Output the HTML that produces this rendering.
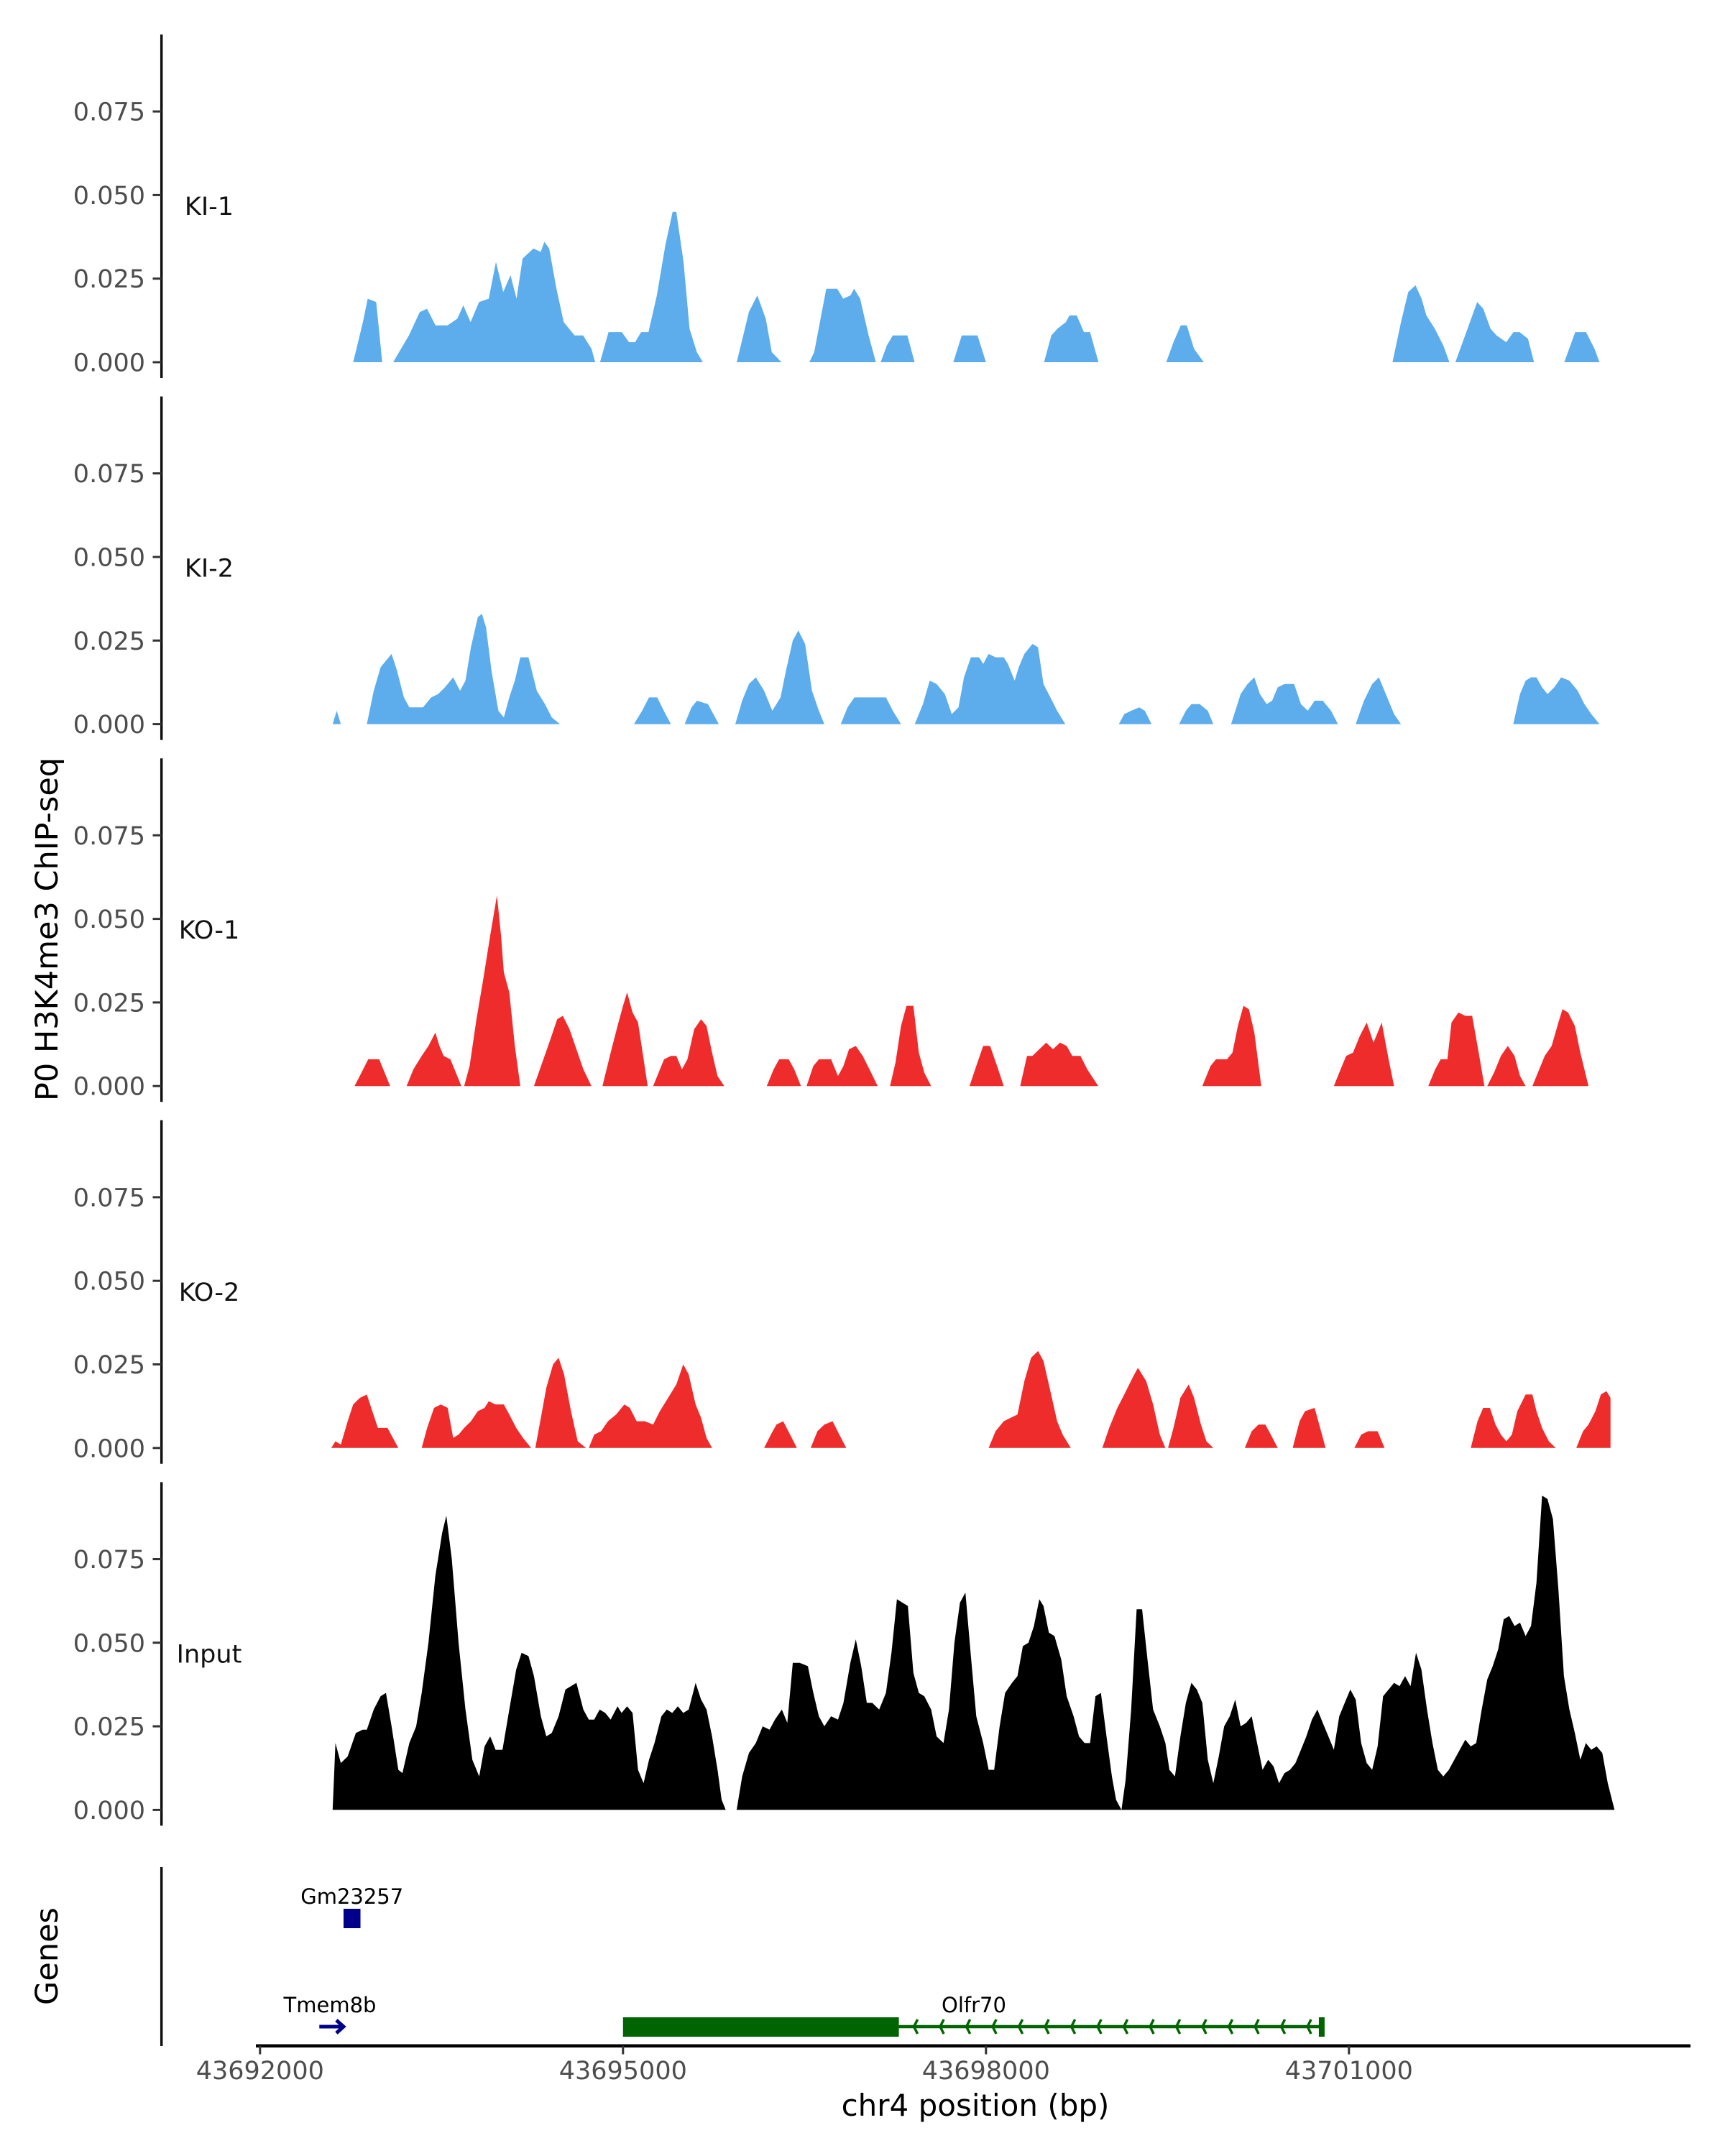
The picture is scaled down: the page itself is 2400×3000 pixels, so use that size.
<!DOCTYPE html>
<html><head><meta charset="utf-8"><style>
html,body{margin:0;padding:0;background:#fff;}
svg{display:block;font-family:"DejaVu Sans","Liberation Sans",sans-serif;}
</style></head><body>
<svg id="chart" xmlns="http://www.w3.org/2000/svg" width="2400" height="3000" viewBox="0 0 2400 3000">
<rect width="2400" height="3000" fill="#fff"/>
<g id="tracks"></g>
<g id="axes"></g>
<text transform="translate(80,1293) rotate(-90)" text-anchor="middle" font-size="43" fill="#000">P0 H3K4me3 ChIP-seq</text>
<text transform="translate(80,2722) rotate(-90)" text-anchor="middle" font-size="43" fill="#000">Genes</text>
<text x="1357" y="2944" text-anchor="middle" font-size="42" fill="#000">chr4 position (bp)</text>
</svg>
<script>
const regionStart = 43692000;
const trackNames = ["KI-1","KI-2","KO-1","KO-2","Input"];
const trackColors = ["#5DADEC","#5DADEC","#EE2C2C","#EE2C2C","#000000"];
const yTicks = [0, 0.025, 0.05, 0.075];
const yTickLabels = ["0.000","0.025","0.050","0.075"];
const xTicks = [43692000, 43695000, 43698000, 43701000];
const xTickLabels = ["43692000","43695000","43698000","43701000"];

const ki1Pos = [
[770,850,890,960,1010],
[1100,1230,1320,1380,1450,1550,1630,1680,1740,1810,1890,1950,2010,2070,2120,2170,2260,2320,2350,2390,2450,2510,2600,2670,2740,2770],
[2810,2880,2990,3050,3100,3150,3210,3280,3350,3410,3440,3500,3550,3610,3660],
[3940,3980,4040,4110,4180,4230,4310],
[4540,4580,4680,4770,4820,4880,4910,4960,5030,5090],
[5130,5180,5230,5350,5410],
[5730,5800,5930,6000],
[6480,6540,6590,6660,6690,6750,6810,6860,6930],
[7490,7550,7610,7660,7720,7800],
[9360,9430,9490,9550,9600,9640,9710,9780,9830],
[9880,9940,10010,10060,10110,10170,10220,10300,10360,10410,10480,10530],
[10780,10810,10870,10960,11030,11070]];
const ki1Val = [
[0,0.012,0.019,0.018,0],
[0,0.008,0.015,0.016,0.011,0.011,0.013,0.017,0.012,0.018,0.019,0.03,0.021,0.026,0.019,0.031,0.034,0.033,0.036,0.034,0.022,0.012,0.008,0.008,0.004,0],
[0,0.009,0.009,0.006,0.006,0.009,0.009,0.02,0.035,0.045,0.045,0.03,0.01,0.003,0],
[0,0.006,0.015,0.02,0.013,0.003,0],
[0,0.003,0.022,0.022,0.019,0.02,0.022,0.019,0.008,0],
[0,0.005,0.008,0.008,0],
[0,0.008,0.008,0],
[0,0.008,0.01,0.012,0.014,0.014,0.009,0.009,0],
[0,0.006,0.011,0.011,0.004,0],
[0,0.012,0.021,0.023,0.019,0.014,0.01,0.005,0],
[0,0.006,0.013,0.018,0.016,0.01,0.008,0.006,0.009,0.009,0.007,0],
[0,0.003,0.009,0.009,0.004,0]];

const ki2Pos = [
[600,634,668],
[883,940,996,1087,1132,1189,1234,1347,1415,1472,1528,1596,1653,1698,1743,1800,1834,1868,1913,1970,2015,2060,2106,2151,2219,2287,2355,2411,2479],
[3090,3158,3215,3283,3351,3396],
[3509,3566,3611,3702,3792],
[3928,3985,4041,4098,4166,4234,4302,4347,4403,4449,4505,4562,4619,4664],
[4800,4856,4913,5173,5230,5298],
[5411,5479,5535,5592,5660,5717,5773,5818,5875,5943,5977,6022,6079,6147,6181,6237,6271,6317,6384,6430,6475,6532,6588,6656],
[7098,7143,7200,7267,7313,7369],
[7596,7652,7698,7766,7833,7879],
[8026,8105,8162,8218,8264,8320,8365,8411,8467,8547,8603,8660,8716,8784,8852,8909],
[9056,9124,9192,9248,9316,9373,9430],
[10358,10414,10460,10505,10550,10596,10641,10697,10754,10822,10890,10946,11003,11071]];
const ki2Val = [
[0,0.004,0],
[0,0.01,0.017,0.021,0.016,0.008,0.005,0.005,0.008,0.009,0.011,0.014,0.01,0.013,0.023,0.032,0.033,0.029,0.016,0.004,0.002,0.008,0.013,0.02,0.02,0.01,0.006,0.002,0],
[0,0.004,0.008,0.008,0.003,0],
[0,0.005,0.007,0.006,0],
[0,0.007,0.012,0.014,0.01,0.004,0.008,0.016,0.025,0.028,0.024,0.01,0.004,0],
[0,0.005,0.008,0.008,0.004,0],
[0,0.006,0.013,0.012,0.009,0.003,0.005,0.014,0.02,0.02,0.018,0.021,0.02,0.02,0.018,0.013,0.017,0.021,0.024,0.023,0.012,0.008,0.004,0],
[0,0.003,0.004,0.005,0.004,0],
[0,0.004,0.006,0.006,0.004,0],
[0,0.009,0.012,0.014,0.009,0.006,0.007,0.011,0.012,0.012,0.006,0.004,0.007,0.007,0.004,0],
[0,0.007,0.012,0.014,0.008,0.003,0],
[0,0.009,0.013,0.014,0.014,0.011,0.009,0.011,0.014,0.013,0.01,0.006,0.003,0]];

const ko1Pos = [
[781,838,894,985,1030,1075],
[1211,1268,1336,1392,1449,1483,1517,1573,1619,1664],
[1687,1732,1789,1845,1902,1958,1992,2015,2060,2106,2151],
[2264,2332,2400,2456,2502,2558,2615,2672,2739],
[2830,2898,2955,3000,3034,3079,3124,3158,3204],
[3249,3294,3339,3396,3441,3487,3532,3588,3645,3690,3736,3781,3837],
[4188,4245,4290,4370,4415,4471],
[4517,4573,4619,4720,4777,4822,4868,4924,4981,5037,5105],
[5207,5252,5298,5343,5400,5445,5490,5547],
[5864,5920,5977,6034,6101,6147],
[6283,6339,6384,6441,6498,6554,6611,6667,6713,6781,6837,6928],
[7788,7856,7901,7992,8037,8082,8128,8173,8218,8275],
[8875,8920,8977,9033,9090,9147,9203,9271,9328,9373],
[9656,9713,9758,9814,9848,9905,9962,10018,10063,10120],
[10143,10199,10256,10313,10369,10414,10460],
[10516,10573,10618,10675,10731,10765,10811,10867,10912,10980]];
const ko1Val = [
[0,0.004,0.008,0.008,0.004,0],
[0,0.005,0.009,0.012,0.016,0.012,0.009,0.008,0.004,0],
[0,0.006,0.02,0.032,0.045,0.057,0.045,0.034,0.028,0.012,0],
[0,0.007,0.014,0.02,0.021,0.017,0.011,0.005,0],
[0,0.01,0.018,0.024,0.028,0.022,0.019,0.011,0],
[0,0.004,0.008,0.009,0.009,0.005,0.008,0.017,0.02,0.018,0.01,0.003,0],
[0,0.005,0.008,0.008,0.005,0],
[0,0.006,0.008,0.008,0.003,0.006,0.011,0.012,0.009,0.005,0],
[0,0.007,0.018,0.024,0.024,0.01,0.004,0],
[0,0.006,0.012,0.012,0.005,0],
[0,0.009,0.009,0.011,0.013,0.011,0.013,0.012,0.009,0.009,0.005,0],
[0,0.006,0.008,0.008,0.01,0.018,0.024,0.023,0.016,0],
[0,0.004,0.009,0.01,0.015,0.019,0.013,0.019,0.008,0],
[0,0.005,0.008,0.008,0.019,0.022,0.021,0.021,0.012,0],
[0,0.004,0.009,0.012,0.009,0.003,0],
[0,0.005,0.009,0.012,0.019,0.023,0.022,0.018,0.01,0]];

const ko2Pos = [
[589,623,668,724,770,826,883,928,974,1053,1143],
[1336,1381,1438,1494,1551,1596,1641,1687,1743,1800,1856,1890,1947,2015,2060,2117,2173,2241],
[2275,2321,2366,2422,2468,2513,2570,2626,2694],
[2717,2762,2819,2875,2943,3011,3056,3113,3181,3249,3305,3373,3441,3498,3543,3600,3645,3690,3736],
[4166,4222,4268,4324,4381,4437],
[4551,4607,4664,4732,4788,4845],
[6022,6079,6147,6203,6260,6317,6373,6430,6475,6532,6588,6634,6701],
[6962,7018,7086,7143,7211,7256,7324,7381,7437,7483],
[7505,7550,7607,7675,7720,7777,7822,7879],
[8139,8196,8252,8309,8354,8411],
[8535,8592,8637,8716,8762,8807],
[9045,9101,9158,9237,9294],
[10007,10063,10109,10165,10211,10256,10301,10347,10392,10460,10516,10550,10596,10652,10709],
[10879,10935,10980,11037,11082,11128,11162,11162]];
const ko2Val = [
[0,0.002,0.001,0.008,0.013,0.015,0.016,0.011,0.006,0.006,0],
[0,0.006,0.012,0.013,0.012,0.003,0.004,0.006,0.008,0.011,0.012,0.014,0.013,0.013,0.01,0.006,0.003,0],
[0,0.009,0.018,0.025,0.027,0.022,0.011,0.002,0],
[0,0.004,0.005,0.008,0.01,0.013,0.012,0.008,0.008,0.007,0.011,0.015,0.019,0.025,0.022,0.013,0.009,0.003,0],
[0,0.004,0.007,0.008,0.004,0],
[0,0.005,0.007,0.008,0.004,0],
[0,0.005,0.008,0.009,0.01,0.02,0.027,0.029,0.026,0.017,0.008,0.004,0],
[0,0.006,0.012,0.016,0.021,0.024,0.02,0.013,0.004,0],
[0,0.006,0.015,0.019,0.015,0.007,0.002,0],
[0,0.005,0.007,0.007,0.004,0],
[0,0.008,0.011,0.012,0.006,0],
[0,0.004,0.005,0.005,0],
[0,0.008,0.012,0.012,0.007,0.004,0.002,0.004,0.011,0.016,0.016,0.011,0.006,0.002,0],
[0,0.005,0.007,0.011,0.016,0.017,0.015,0]];

const inputPos = [
[600,623,668,724,792,849,883,940,996,1041,1087,1143,1177,1234,1290,1336,1392,1449,1506,1540,1585,1641,1698,1755,1811,1856,1902,1947,2004,2060,2117,2162,2219,2264,2321,2366,2411,2468,2524,2570,2615,2672,2717,2762,2807,2853,2898,2955,2988,3034,3079,3124,3170,3215,3260,3317,3362,3407,3453,3498,3543,3600,3645,3690,3736,3781,3815,3849],
[3939,3985,4041,4098,4154,4211,4256,4313,4358,4403,4460,4528,4573,4619,4664,4720,4777,4822,4879,4924,4969,5015,5060,5117,5173,5219,5264,5309,5354,5400,5445,5490,5547,5592,5649,5694,5739,5785,5830,5875,5920,5977,6022,6068,6113,6158,6215,6260,6305,6351,6396,6441,6475,6520,6566,6622,6667,6724,6769,6815,6860,6905,6950,6996,7041,7075,7120,7154,7200,7245,7290,7335,7381,7437,7483,7516,7562,7607,7652,7698,7743,7788,7833,7879,7924,7969,8015,8060,8105,8150,8196,8241,8286,8332,8377,8422,8467,8513,8558,8603,8648,8694,8739,8784,8830,8875,8920,8965,9011,9056,9101,9147,9192,9237,9282,9328,9373,9418,9464,9509,9554,9599,9645,9690,9735,9780,9826,9871,9916,9962,10007,10052,10097,10143,10188,10233,10279,10324,10369,10414,10460,10505,10550,10596,10641,10686,10731,10777,10822,10867,10912,10958,11003,11048,11094,11139,11195]];
const inputVal = [
[0,0.02,0.014,0.016,0.023,0.024,0.024,0.03,0.034,0.035,0.025,0.012,0.011,0.02,0.025,0.035,0.05,0.07,0.083,0.088,0.075,0.05,0.03,0.015,0.01,0.019,0.022,0.018,0.018,0.03,0.042,0.047,0.046,0.04,0.028,0.022,0.023,0.028,0.036,0.037,0.038,0.03,0.027,0.027,0.03,0.029,0.027,0.031,0.029,0.031,0.029,0.012,0.008,0.015,0.02,0.028,0.03,0.029,0.031,0.029,0.03,0.038,0.033,0.03,0.022,0.012,0.003,0],
[0,0.01,0.017,0.02,0.025,0.024,0.027,0.03,0.026,0.044,0.044,0.043,0.035,0.028,0.025,0.028,0.027,0.032,0.044,0.051,0.043,0.032,0.032,0.03,0.035,0.047,0.063,0.062,0.061,0.041,0.035,0.034,0.03,0.022,0.02,0.03,0.05,0.062,0.065,0.046,0.028,0.02,0.012,0.012,0.025,0.035,0.038,0.04,0.049,0.05,0.055,0.063,0.061,0.053,0.052,0.045,0.034,0.028,0.022,0.02,0.02,0.034,0.035,0.022,0.01,0.003,0,0.009,0.03,0.06,0.06,0.045,0.03,0.025,0.02,0.012,0.01,0.022,0.032,0.038,0.036,0.032,0.015,0.008,0.016,0.025,0.028,0.033,0.025,0.026,0.028,0.02,0.012,0.015,0.013,0.008,0.011,0.012,0.014,0.018,0.022,0.027,0.03,0.026,0.022,0.018,0.028,0.032,0.036,0.033,0.02,0.014,0.012,0.019,0.034,0.036,0.038,0.037,0.04,0.037,0.047,0.042,0.03,0.02,0.012,0.01,0.012,0.015,0.018,0.021,0.019,0.02,0.03,0.039,0.043,0.048,0.057,0.058,0.055,0.056,0.052,0.055,0.068,0.094,0.093,0.087,0.066,0.04,0.03,0.023,0.015,0.02,0.018,0.019,0.017,0.008,0]];

const genes = ["Gm23257","Tmem8b","Olfr70"];
const geneStart = [43692690, 43692490, 43695000];
const geneEnd = [43692830, 43692690, 43700775];
const geneThickEnd = [43692830, 43692690, 43697280];

const NS = "http://www.w3.org/2000/svg";
const X0 = 361.8, PXPERBP = 505/3000;
function xScale(bp){ return X0 + (bp - 43692000) * PXPERBP; }
const panelZero0 = 504, panelStep = 503.6, pxPerUnit = 116.3/0.025;
function yScale(panel, v){ return panelZero0 + panel*panelStep - v*pxPerUnit; }
function mk(tag, attrs, parent){ const e=document.createElementNS(NS,tag); for(const k in attrs) e.setAttribute(k,attrs[k]); parent.appendChild(e); return e; }

const tracksG = document.getElementById('tracks');
const axesG = document.getElementById('axes');
const allPos = [ki1Pos, ki2Pos, ko1Pos, ko2Pos, inputPos];
const allVal = [ki1Val, ki2Val, ko1Val, ko2Val, inputVal];

for (let p=0; p<5; p++){
  const g = mk('g', {}, tracksG);
  
  
  const zero = yScale(p, 0);
  allPos[p].forEach((seg, si) => {
    const vals = allVal[p][si];
    let d = 'M' + xScale(regionStart + seg[0]).toFixed(1) + ',' + zero.toFixed(1);
    for (let i=0;i<seg.length;i++){
      d += 'L' + xScale(regionStart + seg[i]).toFixed(1) + ',' + yScale(p, vals[i]).toFixed(1);
    }
    d += 'L' + xScale(regionStart + seg[seg.length-1]).toFixed(1) + ',' + zero.toFixed(1) + 'Z';
    const path = mk('path', {d: d, fill: trackColors[p], stroke: 'none'}, g);
    
    
  });
  const ax = mk('line', {x1:224.7, x2:224.7, y1: zero-456, y2: zero+22, stroke:'#111', 'stroke-width':3.5}, axesG);
  
  
  yTicks.forEach((t, i) => {
    const y = yScale(p, t);
    const tk = mk('line', {x1:212.5, x2:224.7, y1:y, y2:y, stroke:'#333', 'stroke-width':3}, axesG);
    
    
    const tl = mk('text', {x:202, y:y+12.5, 'text-anchor':'end', 'font-size':35, fill:'#4d4d4d'}, axesG);
    
    
    tl.textContent = yTickLabels[i];
  });
  const lab = mk('text', {x:291, y: zero-205, 'text-anchor':'middle', 'font-size':35, fill:'#111'}, axesG);
  
  
  lab.textContent = trackNames[p];
}

const gax = mk('line', {x1:224.7, x2:224.7, y1:2598, y2:2847, stroke:'#111', 'stroke-width':3.5}, axesG);


const xax = mk('line', {x1:356, x2:2352, y1:2846.7, y2:2846.7, stroke:'#000', 'stroke-width':4.5}, axesG);


xTicks.forEach((t, i) => {
  const x = xScale(t);
  const tk = mk('line', {x1:x, x2:x, y1:2846.7, y2:2858.5, stroke:'#333', 'stroke-width':3}, axesG);
  
  
  const tl = mk('text', {x:x, y:2893, 'text-anchor':'middle', 'font-size':35, fill:'#4d4d4d'}, axesG);
  
  
  tl.textContent = xTickLabels[i];
});

const genesG = mk('g', {}, tracksG);


{
  const x1 = xScale(geneStart[0]), x2 = xScale(geneEnd[0]);
  const r = mk('rect', {x:x1, y:2656, width:x2-x1, height:27, fill:'#00008B'}, genesG);
  
  
  const t = mk('text', {x:(x1+x2)/2, y:2649, 'text-anchor':'middle', 'font-size':29, fill:'#000'}, genesG);
  
  
  t.textContent = genes[0];
}
{
  const x1 = xScale(geneStart[1]), x2 = xScale(geneEnd[1]);
  const a = mk('path', {d:'M'+x1+',2820 L'+x2+',2820 M'+(x2-10)+',2811 L'+x2+',2820 L'+(x2-10)+',2829', stroke:'#00008B', 'stroke-width':5, fill:'none'}, genesG);
  
  
  const t = mk('text', {x:459, y:2800, 'text-anchor':'middle', 'font-size':29, fill:'#000'}, genesG);
  
  
  t.textContent = genes[1];
}
{
  const xs = xScale(geneStart[2]), xt = xScale(geneThickEnd[2]), xe = xScale(geneEnd[2]);
  const ln = mk('line', {x1:xt, x2:xe, y1:2820, y2:2820, stroke:'#006400', 'stroke-width':4.5}, genesG);
  
  
  let d = '';
  for (let cx = xt + 21; cx < xe - 5; cx += 36.5){
    d += 'M'+(cx+5)+',2810 L'+cx+',2820 L'+(cx+5)+',2830 ';
  }
  const ch = mk('path', {d:d, stroke:'#006400', 'stroke-width':3.5, fill:'none'}, genesG);
  
  
  const r = mk('rect', {x:xs, y:2807, width:xt-xs, height:27, fill:'#006400'}, genesG);
  
  
  const e = mk('rect', {x:xe-4, y:2807, width:8, height:27, fill:'#006400'}, genesG);
  
  
  const t = mk('text', {x:1355, y:2800, 'text-anchor':'middle', 'font-size':29, fill:'#000'}, genesG);
  
  
  t.textContent = genes[2];
}
</script>
</body></html>
